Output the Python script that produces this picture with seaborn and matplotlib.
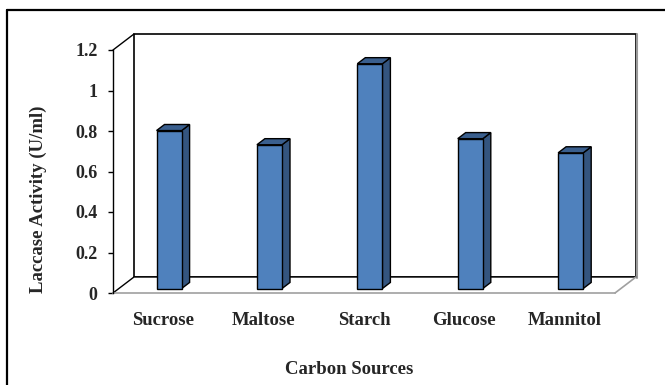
import matplotlib
matplotlib.use("Agg")
import matplotlib.pyplot as plt
import pandas as pd
import seaborn as sns
from matplotlib.patches import Polygon, Rectangle
from matplotlib.lines import Line2D

# Data
carbon_sources = ["Sucrose", "Maltose", "Starch", "Glucose", "Mannitol"]
laccase_activity = [0.78, 0.71, 1.11, 0.74, 0.67]
y_ticks = [0, 0.2, 0.4, 0.6, 0.8, 1.0, 1.2]
y_tick_labels = ["0", "0.2", "0.4", "0.6", "0.8", "1", "1.2"]

# Colours
FRONT = "#4F81BD"
SIDE = "#34557F"
TOP = "#3A5F8E"

sns.set_theme(style="white")
plt.rcParams["font.family"] = ["Liberation Serif", "DejaVu Serif"]
plt.rcParams["font.weight"] = "bold"

W, H = 665, 385
fig = plt.figure(figsize=(W / 100, H / 100), dpi=100)
ax = fig.add_axes([113 / W, 1 - 293 / H, 502 / W, 243 / H])

df = pd.DataFrame({"source": carbon_sources, "activity": laccase_activity})
sns.barplot(data=df, x="source", y="activity", color=FRONT, saturation=1,
            width=0.25, edgecolor="black", linewidth=1.0, ax=ax, zorder=4)

ax.set_xlim(-0.5, 4.5)
ax.set_ylim(0, 1.2)

# pseudo-3D depth vector (data units) and bar depth range
dx, dy = 0.209, 0.079
d0, d1 = 0.28, 0.66

# back wall
wall = Rectangle((-0.5 + dx, dy), 5.0, 1.2, facecolor="white", edgecolor="black",
                 linewidth=1.2, zorder=1, clip_on=False)
ax.add_patch(wall)
ax.add_line(Line2D([4.5 + dx + 0.006, 4.5 + dx + 0.006], [dy - 0.004, 1.2 + dy],
                   color="#9a9a9a", linewidth=1.5, zorder=1, clip_on=False))
# floor
floor = Polygon([(-0.5, 0), (4.5, 0), (4.5 + dx, dy), (-0.5 + dx, dy)],
                closed=True, facecolor="white", edgecolor="none", zorder=2, clip_on=False)
ax.add_patch(floor)
ax.add_line(Line2D([-0.5, -0.5 + dx, 4.5 + dx], [0, dy, dy], color="black",
                   linewidth=1.0, zorder=2, clip_on=False))
ax.add_line(Line2D([4.5, 4.5 + dx], [0, dy], color="#a0a0a0",
                   linewidth=1.2, zorder=2, clip_on=False))
# top-left edge joining front axis and back wall
ax.add_line(Line2D([-0.5, -0.5 + dx], [1.2, 1.2 + dy], color="black",
                   linewidth=1.0, zorder=2, clip_on=False))

# shift bar fronts into depth and add side/top faces
bx, by = (d1 - d0) * dx, (d1 - d0) * dy
for p in list(ax.patches):
    if p in (wall, floor):
        continue
    p.set_x(p.get_x() + d0 * dx)
    p.set_y(d0 * dy)
    x0, y0, w, h = p.get_x(), p.get_y(), p.get_width(), p.get_height()
    side = Polygon([(x0 + w, y0), (x0 + w + bx, y0 + by), (x0 + w + bx, y0 + h + by),
                    (x0 + w, y0 + h)], closed=True, facecolor=SIDE,
                   edgecolor="black", linewidth=1.0, zorder=3, clip_on=False)
    top = Polygon([(x0, y0 + h), (x0 + w, y0 + h), (x0 + w + bx, y0 + h + by),
                   (x0 + bx, y0 + h + by)], closed=True, facecolor=TOP,
                  edgecolor="black", linewidth=1.0, zorder=3, clip_on=False)
    ax.add_patch(side)
    ax.add_patch(top)

# axes styling
for s in ("top", "right"):
    ax.spines[s].set_visible(False)
ax.spines["left"].set_color("black")
ax.spines["left"].set_linewidth(1.0)
ax.spines["left"].set_zorder(5)
ax.spines["bottom"].set_color("#a0a0a0")
ax.spines["bottom"].set_linewidth(1.2)

ax.set_yticks(y_ticks)
ax.set_yticklabels(y_tick_labels)
ax.tick_params(axis="y", which="major", left=True, direction="out", length=3.6,
               width=1.0, color="black", pad=7.5, labelsize=13)
ax.tick_params(axis="x", which="major", bottom=False, length=0, pad=13.5, labelsize=13.5)
ax.grid(False)
ax.set_facecolor("none")

ax.set_xlabel("Carbon Sources", fontsize=13.5, fontweight="bold")
ax.set_ylabel("Laccase Activity (U/ml)", fontsize=13.5, fontweight="bold")
ax.xaxis.set_label_coords((349 - 113) / 502, (293 - 361) / 243)
ax.yaxis.set_label_coords((47 - 113) / 502, (293 - 199) / 243)

# outer frame
fig.add_artist(Line2D([7 / W, 7 / W], [0, 1 - 10 / H], transform=fig.transFigure,
                      color="black", linewidth=1.6))
fig.add_artist(Line2D([7 / W, 1], [1 - 10 / H, 1 - 10 / H], transform=fig.transFigure,
                      color="black", linewidth=1.6))

fig.savefig("out.png", dpi=100)
